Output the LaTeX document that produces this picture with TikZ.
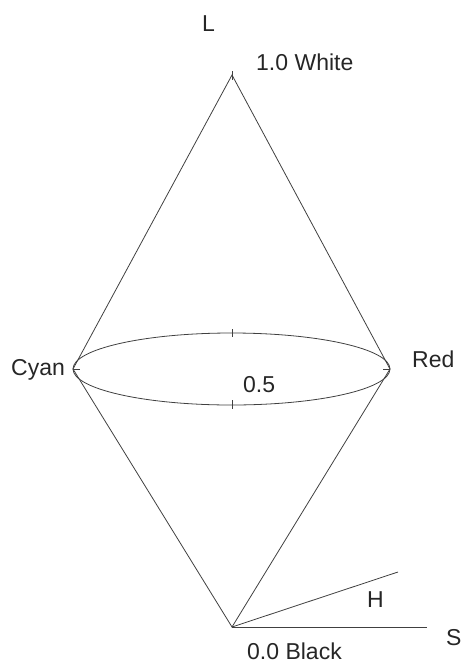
\documentclass[tikz,border=0pt]{standalone}
\usepackage{fontspec}
\setmainfont{Liberation Sans}
\begin{document}
\begin{tikzpicture}[x=1pt,y=-1pt,
  ln/.style={draw=black!75,line width=0.8pt},
  tk/.style={draw=black!75,line width=0.8pt},
  lbl/.style={font=\fontsize{23}{26}\selectfont,inner sep=0pt,anchor=base west,text=black!85}]
\useasboundingbox (0,0) rectangle (469,662);
\coordinate (top) at (232,75);
\coordinate (bot) at (232,627);
\coordinate (lft) at (73,369);
\coordinate (rgt) at (390,369);
\coordinate (ctr) at (231.5,369);
\coordinate (hend) at (398,572);
\coordinate (send) at (427,627);
\draw[ln] (top) -- (lft) -- (bot) -- (rgt) -- cycle;
\draw[ln] (ctr) ellipse [x radius=158.5, y radius=36];
\draw[tk] (232,71) -- (232,80);
\draw[tk] (232,329) -- (232,337);
\draw[tk] (232,400) -- (232,409);
\draw[tk] (73,369) -- (80,369);
\draw[tk] (383,369) -- (390,369);
\draw[ln] (bot) -- (hend);
\draw[ln] (bot) -- (send);
\node[lbl] (L) at (202,31) {L};
\node[lbl] (white) at (256,70) {1.0 White};
\node[lbl] (cyan) at (11,375) {Cyan};
\node[lbl] (red) at (412,367) {Red};
\node[lbl] (half) at (243,392) {0.5};
\node[lbl] (H) at (367,607) {H};
\node[lbl] (black) at (247,659) {0.0 Black};
\node[lbl] (S) at (446,645) {S};
\end{tikzpicture}
\end{document}
